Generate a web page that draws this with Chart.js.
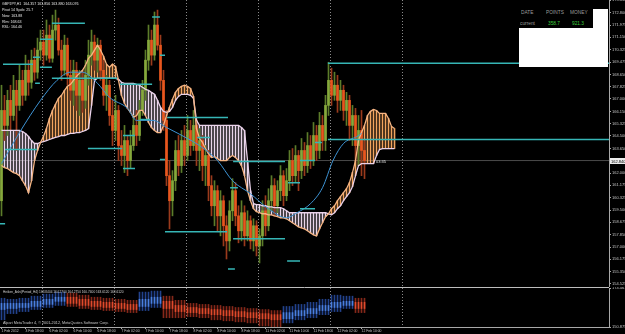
<!DOCTYPE html>
<html>
<head>
<meta charset="utf-8">
<script src="https://cdn.jsdelivr.net/npm/chart.js@4.4.1/dist/chart.umd.min.js"></script>
<style>
  html, body { margin: 0; padding: 0; background: #000; }
  #wrap { position: relative; width: 625px; height: 334px; overflow: hidden; background: #000;
          font-family: "Liberation Sans", Arial, sans-serif; }
  canvas { position: absolute; left: 0; display: block; }
  #main { top: 0; }
  #lower { top: 287px; }
  .t { position: absolute; white-space: nowrap; transform-origin: 0 0; font-size: 8px; line-height: 12px; color: #e4e4e4; }
  #whitebox { position: absolute; left: 519px; top: 9px; width: 89px; height: 58px; background: #fff; }
  #tbl { position: absolute; left: 519px; top: 0; width: 74px; height: 28px; background: #000; }
  #tbl span { position: absolute; white-space: nowrap; font-size: 10px; transform: scale(0.48); transform-origin: 0 0; color: #9c9c9c; }
  #tbl span.g { color: #3ccf3c; }
</style>
</head>
<body>
<div id="wrap">
  <canvas id="main" width="625" height="287"></canvas>
  <canvas id="lower" width="625" height="47"></canvas>

  <div class="t" style="left:2px;top:1px;transform:scale(0.45);line-height:13px">GBPJPY,H1&nbsp; 164.357 163.856 163.880 163.076<br>Pivot 14 Spds: 25.7<br>Now: 163.88<br>Rlm: 168.63<br>RSL: 164.46</div>

  <div id="whitebox"></div>
  <div id="tbl">
    <span style="left:2px;top:10px">DATE</span>
    <span style="left:27px;top:10px">POINTS</span>
    <span style="left:51px;top:10px">MONEY</span>
    <span style="left:1px;top:21px">current</span>
    <span class="g" style="left:29px;top:21px">358.7</span>
    <span class="g" style="left:53px;top:21px">921.3</span>
  </div>

  <div class="t" style="left:376px;top:159px;transform:scale(0.5)">03:35</div>
  <div class="t" style="left:3px;top:290px;transform:scale(0.4);color:#d0d0d0">Heiken_Ashi(Period_H4) 163.8404 164.2700 164.2750 160.7400 163.6120 163.6120</div>
  <div class="t" style="left:3px;top:320px;transform:scale(0.47);color:#c8c8c8">Alpari MetaTrader 4, © 2001-2012, MetaQuotes Software Corp.</div>
</div>

<script>
// ── Price data (H1 candles, bar index = position on the time axis) ──

var opens = [160.13, 166.22, 165.21, 166.90, 165.88, 167.58, 166.56, 168.25, 167.24, 168.93,
  168.12, 169.61, 168.80, 170.29, 170.83, 169.95, 171.30, 169.74, 171.64, 171.98,
  170.29, 168.93, 170.62, 168.59, 167.58, 168.93, 167.24, 168.25, 166.90, 168.59,
  169.95, 170.83, 169.61, 170.62, 168.93, 167.24, 167.92, 165.88, 164.87, 166.22,
  163.85, 163.18, 164.19, 162.84, 163.85, 165.21, 164.53, 166.22, 167.58, 169.61,
  170.96, 169.95, 171.98, 170.62, 168.25, 165.55, 161.82, 160.13, 161.48, 163.52,
  162.50, 164.19, 163.18, 164.87, 163.85, 165.21, 163.52, 164.19, 162.50, 163.18,
  161.15, 159.79, 160.81, 159.11, 160.13, 158.44, 157.42, 159.45, 160.81, 159.11,
  158.10, 159.32, 157.76, 158.78, 157.42, 158.44, 157.08, 157.76, 159.45, 158.44,
  160.13, 161.15, 159.79, 160.81, 161.82, 160.47, 161.48, 162.84, 161.82, 163.18,
  162.16, 163.52, 162.50, 163.85, 162.84, 164.53, 163.52, 165.21, 164.19, 166.56,
  168.25, 167.24, 167.92, 166.90, 167.58, 166.22, 166.90, 165.21, 165.88, 163.85,
  164.87, 163.52];

var highs = [167.92, 167.24, 167.58, 167.92, 168.59, 168.25, 169.27, 168.93, 169.95, 169.61,
  170.29, 170.42, 171.10, 171.64, 171.64, 172.32, 171.98, 172.65, 172.99, 172.45,
  170.96, 171.30, 171.10, 169.61, 169.61, 169.47, 168.93, 168.80, 169.61, 170.96,
  171.64, 171.30, 171.10, 170.96, 169.61, 168.59, 168.25, 166.90, 167.24, 166.56,
  164.87, 165.21, 164.53, 164.87, 165.88, 166.22, 166.90, 168.25, 170.29, 171.98,
  171.64, 172.86, 172.99, 171.30, 168.93, 166.22, 162.84, 162.16, 164.19, 164.53,
  164.87, 165.21, 165.88, 165.55, 166.22, 165.68, 165.00, 164.53, 163.85, 163.52,
  161.82, 161.48, 161.15, 160.81, 160.47, 159.11, 160.13, 161.62, 161.35, 159.79,
  160.13, 159.79, 159.45, 159.11, 158.91, 158.78, 158.23, 160.13, 160.47, 160.94,
  161.82, 161.62, 161.48, 162.50, 162.16, 162.30, 163.52, 163.65, 163.85, 163.52,
  164.33, 164.06, 164.73, 164.53, 165.41, 165.21, 166.09, 165.88, 167.24, 169.47,
  169.07, 168.80, 168.59, 168.25, 167.92, 167.44, 167.24, 166.56, 166.36, 165.88,
  166.22, 164.19];

var lows = [159.11, 164.19, 164.53, 164.87, 165.55, 163.52, 166.22, 166.56, 166.90, 167.24,
  167.71, 168.25, 168.39, 169.61, 169.27, 169.61, 169.47, 169.47, 170.96, 169.95,
  168.25, 168.59, 167.92, 166.90, 166.56, 166.22, 165.88, 166.09, 166.36, 167.92,
  169.27, 168.93, 168.80, 168.25, 166.56, 166.22, 165.21, 163.85, 164.19, 162.84,
  162.50, 162.03, 161.82, 162.30, 163.52, 163.85, 164.19, 165.88, 166.90, 168.93,
  169.27, 169.61, 170.29, 167.58, 164.87, 161.15, 158.23, 159.11, 160.81, 161.82,
  162.03, 162.50, 162.84, 163.18, 163.52, 162.50, 162.16, 161.48, 161.15, 160.13,
  159.11, 158.44, 158.10, 157.76, 157.08, 156.20, 156.74, 158.78, 158.44, 157.29,
  157.42, 157.08, 157.42, 156.88, 156.74, 156.41, 155.93, 157.08, 157.76, 158.10,
  159.45, 159.11, 159.32, 160.13, 159.79, 160.13, 160.81, 161.15, 161.35, 160.81,
  161.62, 161.82, 162.03, 162.30, 162.50, 162.84, 162.97, 163.52, 163.52, 165.88,
  166.56, 166.90, 166.09, 166.22, 165.55, 165.21, 164.19, 163.85, 162.84, 162.50,
  161.82, 161.62];

var closes = [166.22, 165.21, 166.90, 165.88, 167.58, 166.56, 168.25, 167.24, 168.93, 168.12,
  169.61, 168.80, 170.29, 170.83, 169.95, 171.30, 169.74, 171.64, 171.98, 170.29,
  168.93, 170.62, 168.59, 167.58, 168.93, 167.24, 168.25, 166.90, 168.59, 169.95,
  170.83, 169.61, 170.62, 168.93, 167.24, 167.92, 165.88, 164.87, 166.22, 163.85,
  163.18, 164.19, 162.84, 163.85, 165.21, 164.53, 166.22, 167.58, 169.61, 170.96,
  169.95, 171.98, 170.62, 168.25, 165.55, 161.82, 160.13, 161.48, 163.52, 162.50,
  164.19, 163.18, 164.87, 163.85, 165.21, 163.52, 164.19, 162.50, 163.18, 161.15,
  159.79, 160.81, 159.11, 160.13, 158.44, 157.42, 159.45, 160.81, 159.11, 158.10,
  159.32, 157.76, 158.78, 157.42, 158.44, 157.08, 157.76, 159.45, 158.44, 160.13,
  161.15, 159.79, 160.81, 161.82, 160.47, 161.48, 162.84, 161.82, 163.18, 162.16,
  163.52, 162.50, 163.85, 162.84, 164.53, 163.52, 165.21, 164.19, 166.56, 168.25,
  167.24, 167.92, 166.90, 167.58, 166.22, 166.90, 165.21, 165.88, 163.85, 164.87,
  163.52, 162.84];

// Ichimoku cloud edges (extend past the last candle)
var spanA = [162.50, 162.36, 162.30, 162.16, 162.03, 161.96, 161.82, 161.48, 161.15, 160.67,
  161.48, 162.84, 163.52, 164.06, 164.46, 165.00, 165.68, 166.22, 166.63, 167.04,
  167.24, 167.58, 167.85, 167.98, 168.25, 168.52, 168.73, 168.93, 169.27, 169.74,
  169.95, 170.29, 170.62, 170.29, 169.88, 169.34, 169.13, 169.34, 169.20, 168.25,
  167.24, 166.70, 166.36, 166.09, 165.75, 165.88, 166.22, 166.22, 165.88, 165.41,
  165.07, 164.87, 164.73, 164.73, 165.21, 165.88, 166.43, 166.97, 167.44, 167.71,
  167.85, 167.92, 167.85, 167.71, 167.17, 165.00, 164.33, 164.06, 163.65, 163.31,
  163.04, 163.11, 162.97, 162.84, 162.84, 162.84, 163.04, 163.18, 163.04, 162.84,
  162.50, 161.82, 160.81, 160.13, 159.59, 159.39, 159.32, 159.25, 159.25, 159.18,
  159.18, 159.11, 159.05, 158.98, 158.98, 158.91, 158.78, 158.64, 158.51, 158.37,
  158.30, 158.23, 158.10, 157.96, 157.83, 157.76, 158.23, 158.64, 159.05, 159.25,
  159.59, 159.79, 160.13, 160.40, 160.67, 160.94, 161.35, 162.03, 162.84, 164.19,
  164.73, 165.21, 165.88, 166.16, 166.29, 166.22, 166.02, 166.02, 166.02, 165.68,
  165.14, 165.00];

var spanB = [164.87, 164.87, 164.87, 164.87, 164.87, 164.87, 164.87, 164.80, 164.67, 164.46,
  164.19, 163.99, 163.99, 164.06, 164.12, 164.19, 164.26, 164.33, 164.40, 164.46,
  164.53, 164.53, 164.60, 164.67, 164.67, 164.73, 164.73, 164.80, 164.87, 165.00,
  166.56, 168.25, 168.39, 168.39, 168.39, 168.39, 168.39, 168.39, 168.39, 168.32,
  168.12, 168.05, 168.05, 168.05, 168.05, 167.98, 167.92, 167.78, 167.65, 167.58,
  167.44, 167.31, 166.90, 166.43, 166.16, 166.09, 166.16, 166.43, 166.90, 167.17,
  167.31, 167.31, 167.31, 167.24, 167.04, 165.55, 165.21, 165.21, 165.21, 165.21,
  165.21, 165.21, 165.21, 165.21, 165.21, 165.21, 165.21, 165.21, 165.21, 165.21,
  165.07, 164.87, 162.84, 160.81, 159.93, 159.86, 159.86, 159.79, 159.79, 159.72,
  159.72, 159.66, 159.66, 159.66, 159.59, 159.45, 159.32, 159.32, 159.32, 159.32,
  159.32, 159.32, 159.32, 159.32, 159.32, 159.32, 159.32, 159.32, 159.32, 159.25,
  159.18, 159.32, 159.59, 159.79, 160.13, 160.40, 160.67, 161.08, 161.82, 162.50,
  162.63, 162.63, 162.63, 162.63, 162.63, 163.18, 163.58, 163.65, 163.65, 163.65,
  163.65, 163.65];

// Blue moving average, read at a few bars
var maBars = [0, 6, 13, 18.5, 23, 27, 32, 36, 42, 45, 50.5, 55, 62, 66, 72, 77, 83, 88.5, 95, 98.5, 103, 107, 110.5, 114, 118.5, 120];
var maValues = [162.63, 164.73, 166.90, 168.25, 168.80, 168.80, 168.05, 167.10, 166.36, 165.55,
  165.55, 165.07, 164.33, 163.85, 162.84, 161.48, 160.60, 159.66, 158.98, 159.32,
  159.93, 161.01, 162.84, 163.99, 164.46, 164.67];

// Cyan horizontal levels: price, first bar, last bar
var levelPrice = [169.34, 169.81, 171.03, 172.11, 168.05, 169.13, 168.39, 167.98, 172.52, 163.58,
  163.65, 164.53, 162.30, 165.61, 169.95, 162.91, 165.75, 164.40, 158.03, 158.57,
  162.77, 161.01, 157.56, 155.53, 156.07, 161.35, 162.84, 159.59, 164.06, 169.40, 164.26];
var levelFrom = [0.5, 10.5, 12.8, 16.8, 11.2, 12.8, 16.8, 39.5, 50.2, 1.2,
  28.8, 40.5, 40.5, 46.2, 52.8, 52.8, 55.2, 65.2, 54.5, -0.5,
  77.2, 76.2, 77.2, 75.5, 95.2, 95.5, 99.5, 99.5, 104.5, 108.8, 108.8];
var levelTo = [10.5, 12.8, 17.2, 27.8, 12.8, 16.8, 38.5, 50.2, 52.8, 11.8,
  40.2, 44.5, 44.5, 49.5, 54.5, 54.5, 75.5, 69.5, 75.2, 1.2,
  94.5, 78.8, 94.5, 77.8, 99.5, 99.5, 104.5, 104.5, 106.8, 202.5, 202.5];

// Heiken Ashi (H4) in the lower window, one entry per H4 candle
var haFirstBar = [0, 2, 6, 10, 14, 18, 22, 26, 30, 34, 38, 42, 46, 50, 54, 58, 62, 66, 70, 74, 78, 82, 86, 90, 94, 98, 102, 106, 110, 114, 118];
var haOpen = [161.44, 162.06, 162.68, 163.30, 164.54, 166.40, 168.88, 167.64, 166.40, 165.78,
  165.16, 164.54, 163.30, 165.16, 166.40, 163.92, 162.68, 162.06, 161.44, 160.82,
  160.20, 159.58, 158.96, 158.34, 155.86, 157.72, 158.96, 160.82, 162.68, 163.92, 165.78];
var haClose = [165.16, 165.16, 165.16, 166.40, 167.64, 168.88, 165.16, 163.92, 163.30, 162.68,
  162.06, 161.44, 167.64, 168.88, 162.06, 160.20, 159.58, 158.96, 158.34, 157.72,
  157.10, 156.48, 155.86, 155.24, 159.58, 160.82, 162.06, 163.92, 165.78, 166.40, 162.06];
var haHigh = [168.26, 167.64, 168.26, 169.50, 170.74, 171.98, 171.36, 170.12, 168.88, 168.26,
  167.64, 167.02, 171.98, 172.60, 169.50, 167.02, 165.16, 164.54, 163.92, 163.30,
  162.68, 162.06, 161.44, 160.82, 163.30, 164.54, 165.78, 167.64, 170.12, 169.50, 168.26];
var haLow = [155.24, 158.96, 160.20, 161.44, 162.68, 163.92, 163.30, 162.06, 161.44, 160.82,
  160.20, 159.58, 160.82, 162.68, 156.48, 156.48, 157.10, 156.48, 155.24, 154.62,
  154.00, 153.38, 151.52, 150.90, 153.38, 155.24, 156.48, 158.34, 160.20, 162.06, 159.58];

// Axes
var priceTicks = [154.525, 155.350, 156.175, 157.000, 157.850, 158.675, 159.500, 160.325, 161.175, 162.000,
  162.825, 163.650, 164.500, 165.325, 166.150, 167.000, 167.825, 168.650, 169.475, 170.325,
  171.150, 171.975, 172.800, 173.650];
var haTicks = [150.8759, 174.4612];
var xLabelBars = [0, 8, 16, 24, 32, 40, 48, 56, 64, 72, 80, 88, 96, 104, 112, 120];
var xLabels = ['1 Feb 2012', '3 Feb 18:00', '6 Feb 02:00', '6 Feb 10:00', '6 Feb 18:00', '7 Feb 02:00',
  '7 Feb 10:00', '7 Feb 18:00', '8 Feb 02:00', '8 Feb 10:00', '8 Feb 18:00', '11 Feb 02:00',
  '11 Feb 10:00', '11 Feb 18:00', '12 Feb 02:00', '12 Feb 10:00'];
var daySeparators = [13.5, 37.5, 61.5, 85.5, 109.5, 133.5];

var X_MIN = -0.5, X_MAX = 202.5;
var AXIS_FONT = { size: 4, family: 'Liberation Sans' };
var DATE_FONT = { size: 3.4, family: 'Liberation Sans' };

// ── Colours ──
var BULL = '#86a83c', BULL_WICK = '#5c7c2a';
var BEAR = '#e8561e', BEAR_WICK = '#9a3a1c';
var KUMO_UP = '#f2a45e', KUMO_DN = '#e9d6ea';
var HA_UP = '#4a7fe0', HA_UP_WICK = '#22428c';
var HA_DN = '#e04a2c', HA_DN_WICK = '#86281a';

// ── Helpers ──

function noPad(width) {
  return function(s) { s.width = width; s.paddingTop = 0; s.paddingBottom = 0; };
}

var separators = {
  id: 'separators',
  beforeDatasetsDraw: function(chart) {
    var ctx = chart.ctx, a = chart.chartArea, x = chart.scales.x;
    ctx.save();
    ctx.strokeStyle = '#8a8a8a';
    ctx.lineWidth = 1;
    ctx.setLineDash([1, 2]);
    daySeparators.forEach(function(v) {
      var px = Math.round(x.getPixelForValue(v)) + 0.5;
      ctx.beginPath();
      ctx.moveTo(px, a.top);
      ctx.lineTo(px, a.bottom);
      ctx.stroke();
    });
    ctx.restore();
  }
};

var priceTag = {
  id: 'priceTag',
  afterDraw: function(chart) {
    var ctx = chart.ctx, a = chart.chartArea, y = chart.scales.y;
    var last = closes[closes.length - 1];
    var py = Math.round(y.getPixelForValue(last));
    ctx.save();
    ctx.fillStyle = '#ececec';
    ctx.fillRect(a.right + 1, py - 3, 16, 6);
    ctx.fillStyle = '#000';
    ctx.font = '4px "Liberation Sans"';
    ctx.textBaseline = 'middle';
    ctx.fillText(last.toFixed(3), a.right + 2, py + 0.5);
    ctx.restore();
  }
};

var panelTop = {
  id: 'panelTop',
  afterDraw: function(chart) {
    var ctx = chart.ctx, a = chart.chartArea;
    ctx.save();
    ctx.strokeStyle = '#bdbdbd';
    ctx.lineWidth = 1;
    ctx.beginPath();
    ctx.moveTo(0, 0.5);
    ctx.lineTo(a.right, 0.5);
    ctx.stroke();
    ctx.restore();
  }
};

// ── Main price window ──

var levelPoints = [];
levelPrice.forEach(function(p, k) {
  levelPoints.push({ x: levelFrom[k], y: p }, { x: levelTo[k], y: p }, { x: levelTo[k], y: null });
});

var lastClose = closes[closes.length - 1];

new Chart(document.getElementById('main'), {
  type: 'bar',
  data: {
    datasets: [
      {
        type: 'line', order: 1, data: levelPoints,
        borderColor: '#36b6b6', borderWidth: 1.5, pointRadius: 0, spanGaps: false
      },
      {
        type: 'line', order: 2,
        data: maBars.map(function(b, k) { return { x: b, y: maValues[k] }; }),
        borderColor: '#3d93d4', borderWidth: 1, pointRadius: 0, cubicInterpolationMode: 'monotone'
      },
      {
        type: 'line', order: 3,
        data: spanA.map(function(v, i) { return { x: i, y: v }; }),
        borderColor: '#f6b584', borderWidth: 1.3, pointRadius: 0
      },
      {
        type: 'line', order: 3,
        data: spanB.map(function(v, i) { return { x: i, y: v }; }),
        borderColor: '#ead2ea', borderWidth: 1.3, pointRadius: 0
      },
      {
        order: 4, grouped: false, barThickness: 2,
        data: closes.map(function(c, i) { return { x: i, y: [opens[i], c] }; }),
        backgroundColor: closes.map(function(c, i) { return c >= opens[i] ? BULL : BEAR; })
      },
      {
        order: 5, grouped: false, barThickness: 1,
        data: closes.map(function(c, i) { return { x: i, y: [lows[i], highs[i]] }; }),
        backgroundColor: closes.map(function(c, i) { return c >= opens[i] ? BULL_WICK : BEAR_WICK; })
      },
      {
        order: 6, grouped: false, barThickness: 1,
        data: spanA.map(function(a, i) { return { x: i, y: [a, spanB[i]] }; }),
        backgroundColor: spanA.map(function(a, i) { return a >= spanB[i] ? KUMO_UP : KUMO_DN; })
      },
      {
        type: 'line', order: 7,
        data: [{ x: X_MIN, y: lastClose }, { x: X_MAX, y: lastClose }],
        borderColor: '#4a4a4a', borderWidth: 1, pointRadius: 0
      }
    ]
  },
  options: {
    responsive: false,
    animation: false,
    events: [],
    layout: { padding: 0 },
    plugins: { legend: { display: false }, tooltip: { enabled: false } },
    scales: {
      x: { type: 'linear', min: X_MIN, max: X_MAX, offset: false, display: false },
      y: {
        position: 'right', min: 154.31, max: 173.67,
        afterBuildTicks: function(s) { s.ticks = priceTicks.map(function(v) { return { value: v }; }); },
        afterFit: noPad(16),
        ticks: {
          color: '#c4c4c4', font: AXIS_FONT, padding: 1, autoSkip: false,
          callback: function(v) { return v.toFixed(3); }
        },
        grid: { display: true, drawOnChartArea: false, color: '#a8a8a8', tickLength: 2 },
        border: { color: '#a8a8a8' }
      }
    }
  },
  plugins: [separators, priceTag]
});

// ── Lower window: Heiken Ashi H4 ──

var lastBar = closes.length - 1;
var haBodies = [], haWicks = [];
haFirstBar.forEach(function(b0, k) {
  var b1 = k + 1 < haFirstBar.length ? haFirstBar[k + 1] - 1 : lastBar;
  var up = haClose[k] >= haOpen[k];
  for (var b = b0; b <= b1; b++) {
    haBodies.push({ x: b, y: [haOpen[k], haClose[k]], up: up });
    haWicks.push({ x: b, y: [haLow[k], haHigh[k]], up: up });
  }
});

new Chart(document.getElementById('lower'), {
  type: 'bar',
  data: {
    datasets: [
      {
        order: 1, grouped: false, barThickness: 1, data: haBodies,
        backgroundColor: function(c) { return c.raw && c.raw.up ? HA_UP : HA_DN; }
      },
      {
        order: 2, grouped: false, barThickness: 1, data: haWicks,
        backgroundColor: function(c) { return c.raw && c.raw.up ? HA_UP_WICK : HA_DN_WICK; }
      }
    ]
  },
  options: {
    responsive: false,
    animation: false,
    events: [],
    layout: { padding: { top: 1 } },
    plugins: { legend: { display: false }, tooltip: { enabled: false } },
    scales: {
      x: {
        type: 'linear', min: X_MIN, max: X_MAX, offset: false,
        afterBuildTicks: function(s) { s.ticks = xLabelBars.map(function(v) { return { value: v }; }); },
        afterFit: function(s) { s.height = 7; s.paddingLeft = 0; s.paddingRight = 0; },
        ticks: {
          color: '#c4c4c4', font: DATE_FONT, padding: 0, align: 'start',
          autoSkip: false, maxRotation: 0, minRotation: 0,
          callback: function(v, i) { return xLabels[i]; }
        },
        grid: { display: true, offset: false, drawOnChartArea: false, color: '#a8a8a8', tickLength: 2 },
        border: { color: '#a8a8a8' }
      },
      y: {
        position: 'right', min: haTicks[0], max: haTicks[1],
        afterBuildTicks: function(s) { s.ticks = haTicks.map(function(v) { return { value: v }; }); },
        afterFit: noPad(16),
        ticks: {
          color: '#c4c4c4', font: AXIS_FONT, padding: 1, autoSkip: false,
          callback: function(v) { return v.toFixed(4); }
        },
        grid: { display: true, drawOnChartArea: false, color: '#a8a8a8', tickLength: 2 },
        border: { color: '#a8a8a8' }
      }
    }
  },
  plugins: [separators, panelTop]
});
</script>
</body>
</html>
